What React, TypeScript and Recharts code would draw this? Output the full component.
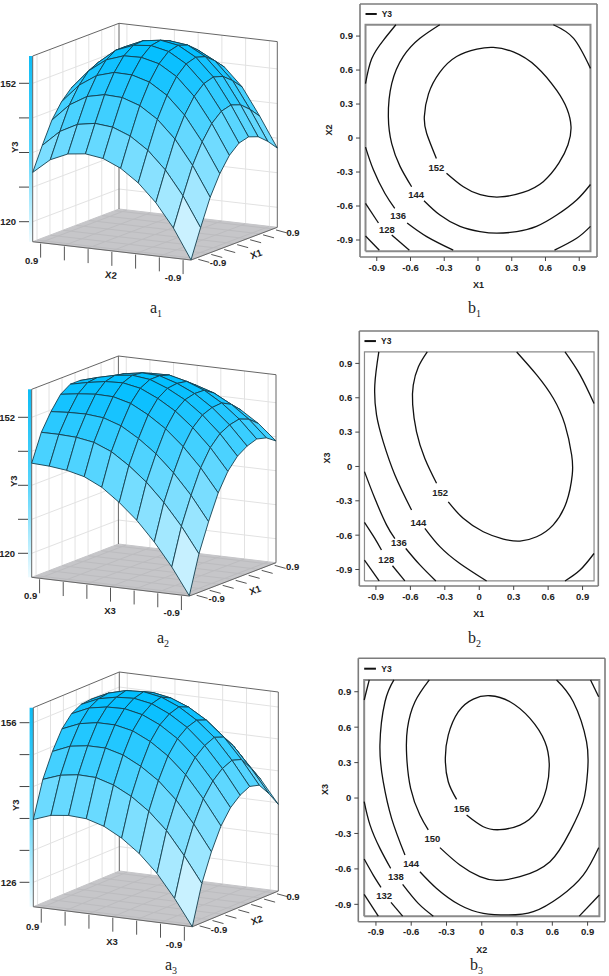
import { Scatter, ScatterChart, XAxis, YAxis } from "recharts";

const FONT = "'Liberation Sans', Arial, sans-serif";
const AXIS_TICKS = [-0.9, -0.6, -0.3, 0, 0.3, 0.6, 0.9];
const WALL_TICKS = [-0.9, -0.6, -0.3, 0, 0.3, 0.6, 0.9];

// surface heights, outer list runs along the left floor edge, inner along the right one
const SURFACE_A1 = [
  [115.4, 122, 128.2, 132.8, 136.2, 138.2, 138.8, 138, 136.1, 133.7],
  [122.3, 128.9, 135.1, 139.7, 143.1, 145.1, 145.7, 144.9, 143, 140.6],
  [127.7, 134.4, 140.7, 145.4, 148.9, 151, 151.7, 151, 149.2, 146.9],
  [131.8, 138.5, 144.8, 149.5, 153, 155.1, 155.8, 155.1, 153.3, 151],
  [134.7, 141.3, 147.5, 152.1, 155.5, 157.5, 158.1, 157.3, 155.4, 153],
  [136.5, 142.9, 148.9, 153.3, 156.5, 158.4, 158.8, 157.8, 155.7, 153.1],
  [137.1, 143.3, 149.1, 153.4, 156.4, 158, 158.2, 157.1, 154.8, 152],
  [136.6, 142.6, 148.2, 152.2, 155, 156.4, 156.4, 155, 152.5, 149.5],
  [134.8, 140.5, 145.8, 149.5, 152, 153.1, 152.8, 151.1, 148.3, 144.9],
  [131.4, 136.8, 141.8, 145.2, 147.5, 148.3, 147.7, 145.7, 142.6, 139],
];
const SURFACE_A2 = [
  [114.4, 123.4, 130.1, 136, 140.2, 142.9, 144.4, 145.2, 144.6, 143],
  [120.7, 129.4, 135.8, 141.4, 145.3, 147.7, 148.9, 149.4, 148.5, 146.6],
  [126.1, 134.5, 140.6, 145.9, 149.5, 151.6, 152.5, 152.7, 151.5, 149.3],
  [130.7, 138.8, 144.6, 149.6, 152.9, 154.7, 155.3, 155.2, 153.7, 151.2],
  [134.4, 142.2, 147.7, 152.4, 155.4, 156.9, 157.2, 156.8, 155, 152.2],
  [137.5, 145, 150.2, 154.6, 157.3, 158.5, 158.5, 157.8, 155.7, 152.6],
  [139.5, 146.7, 151.6, 155.7, 158.1, 159, 158.7, 157.7, 155.3, 151.9],
  [140.5, 147.4, 152, 155.8, 157.9, 158.5, 158, 156.6, 153.9, 150.2],
  [141, 147.6, 151.9, 155.4, 157.2, 157.5, 156.6, 155, 151.6, 148],
  [141.2, 147.6, 151.6, 154.8, 156.3, 156.3, 155.1, 153.2, 150, 145.6],
];
const SURFACE_A3 = [
  [121.4, 128.8, 134, 138.1, 140.8, 142.4, 143.3, 142.8, 140.5, 137.7],
  [126.3, 133.6, 138.8, 142.8, 145.4, 147, 147.8, 147.2, 144.8, 142],
  [130.6, 137.9, 142.9, 146.9, 149.4, 150.9, 151.7, 151, 148.6, 145.6],
  [133.9, 141.1, 146.1, 150, 152.5, 153.9, 154.5, 153.8, 151.3, 148.3],
  [136.4, 143.5, 148.4, 152.3, 154.7, 156, 156.6, 155.8, 153.3, 150.2],
  [138.2, 145.2, 150.1, 153.9, 156.2, 157.5, 158, 157.1, 154.5, 151.3],
  [139.2, 146.2, 151, 154.6, 156.9, 158.1, 158.6, 157.7, 154.9, 151.7],
  [139.4, 146.3, 151, 154.6, 156.8, 157.9, 158.4, 157.4, 154.6, 151.3],
  [139, 145.8, 150.5, 154, 156.2, 157.2, 157.5, 156.5, 153.6, 150.3],
  [137.8, 144.6, 149.1, 152.6, 154.7, 155.7, 155.9, 154.8, 151.9, 148.4],
];

const Y3_TICKS_A1 = [120, 128, 136, 144, 152];
const Y3_TICKS_A3 = [126, 132, 138, 144, 150, 156];

const LABELS_A1 = [
  { x: 31.7, y: 260, text: "0.9" },
  { x: 173, y: 277, text: "-0.9" },
  { x: 111, y: 275, text: "X2", rotate: 6 },
  { x: 218, y: 262, text: "-0.9" },
  { x: 293, y: 232, text: "0.9" },
  { x: 256, y: 254, text: "X1", rotate: -20 },
];
const LABELS_A2 = [
  { x: 30.7, y: 265.7, text: "0.9" },
  { x: 171.7, y: 282.7, text: "-0.9" },
  { x: 110, y: 280.7, text: "X3" },
  { x: 216.7, y: 268, text: "-0.9" },
  { x: 292.7, y: 236.7, text: "0.9" },
  { x: 255, y: 260, text: "X1", rotate: -20 },
];
const LABELS_A3 = [
  { x: 32.7, y: 271.7, text: "0.9" },
  { x: 174, y: 289, text: "-0.9" },
  { x: 112, y: 286.7, text: "X3" },
  { x: 219, y: 274, text: "-0.9" },
  { x: 293, y: 241.7, text: "0.9" },
  { x: 256.7, y: 265, text: "X2", rotate: -20 },
];

type Pair = number[];

const CONTOURS_B1: Pair[][] = [
  [[-0.37, -0.18], [-0.456, 0.04], [-0.477, 0.19], [-0.44, 0.39], [-0.34, 0.58], [-0.19, 0.72], [-0.01, 0.785], [0.136, 0.8], [0.314, 0.76], [0.52, 0.63], [0.7, 0.42], [0.79, 0.26], [0.827, 0.1], [0.8, -0.06], [0.72, -0.22], [0.58, -0.385], [0.4, -0.48], [0.196, -0.52], [0.02, -0.5], [-0.13, -0.43], [-0.28, -0.31]],
  [[-0.34, 1], [-0.516, 0.88], [-0.664, 0.72], [-0.767, 0.48], [-0.797, 0.19], [-0.767, -0.05], [-0.693, -0.25], [-0.59, -0.43]],
  [[-0.48, -0.553], [-0.338, -0.68], [-0.16, -0.78], [0.018, -0.826], [0.166, -0.84], [0.344, -0.826], [0.52, -0.78], [0.7, -0.68], [0.877, -0.547], [1, -0.41]],
  [[0.67, 1], [0.85, 0.88], [1, 0.615]],
  [[-0.73, 1], [-0.84, 0.865], [-0.945, 0.7], [-1, 0.48]],
  [[-1, -0.08], [-0.93, -0.28], [-0.827, -0.49], [-0.74, -0.62]],
  [[-0.63, -0.75], [-0.456, -0.87], [-0.22, -0.99]],
  [[0.68, -0.99], [0.877, -0.885], [1, -0.78]],
  [[-1, -0.576], [-0.885, -0.75]],
  [[-0.767, -0.856], [-0.61, -0.99]],
  [[-1, -0.865], [-0.877, -0.99]],
];
const CONTOURS_B2: Pair[][] = [
  [[-0.453, 1], [-0.53, 0.87], [-0.575, 0.71], [-0.58, 0.54], [-0.547, 0.305], [-0.474, 0.07], [-0.372, -0.147]],
  [[-0.27, -0.31], [-0.14, -0.453], [0.035, -0.57], [0.21, -0.634], [0.355, -0.652], [0.5, -0.614], [0.645, -0.51], [0.76, -0.31], [0.81, -0.074], [0.805, 0.1], [0.747, 0.363], [0.645, 0.596], [0.5, 0.8], [0.326, 1]],
  [[-0.875, 1], [-0.91, 0.71], [-0.895, 0.45], [-0.837, 0.217], [-0.735, -0.074], [-0.59, -0.38]],
  [[-0.474, -0.54], [-0.343, -0.7], [-0.169, -0.847], [0.064, -1]],
  [[0.747, -1], [0.878, -0.905], [1, -0.76]],
  [[0.747, 1], [0.878, 0.8], [1, 0.55]],
  [[-1, -0.045], [-0.91, -0.278], [-0.808, -0.51], [-0.735, -0.63]],
  [[-0.64, -0.716], [-0.517, -0.86], [-0.378, -1]],
  [[-1, -0.488], [-0.91, -0.628], [-0.852, -0.73]],
  [[-0.756, -0.867], [-0.648, -1]],
  [[-1, -0.818], [-0.872, -1]],
];
const CONTOURS_B3: Pair[][] = [
  [[-0.214, -0.011], [-0.285, 0.138], [-0.31, 0.336], [-0.285, 0.533], [-0.2, 0.73], [-0.072, 0.838], [0.07, 0.866], [0.24, 0.815], [0.41, 0.674], [0.537, 0.477], [0.574, 0.279], [0.55, 0.082], [0.466, -0.116], [0.325, -0.229], [0.154, -0.268], [0.013, -0.243], [-0.129, -0.144]],
  [[-0.446, 1], [-0.568, 0.815], [-0.632, 0.59], [-0.639, 0.364], [-0.605, 0.082], [-0.526, -0.144], [-0.455, -0.27]],
  [[-0.356, -0.42], [-0.186, -0.567], [-0.016, -0.666], [0.126, -0.697], [0.325, -0.666], [0.58, -0.539], [0.75, -0.285], [0.863, -0.031], [0.9, 0.223], [0.891, 0.477], [0.778, 0.815], [0.636, 1]],
  [[-0.747, 1], [-0.823, 0.815], [-0.866, 0.449], [-0.838, 0.138], [-0.767, -0.172], [-0.653, -0.483]],
  [[-0.526, -0.624], [-0.384, -0.765], [-0.186, -0.906], [0.013, -0.976], [0.225, -0.99], [0.438, -0.962], [0.665, -0.835], [0.863, -0.652], [0.994, -0.42]],
  [[0.925, 1], [0.994, 0.858]],
  [[-0.957, 1], [-1, 0.83]],
  [[-1, -0.03], [-0.95, -0.229], [-0.866, -0.426], [-0.775, -0.595]],
  [[-0.673, -0.731], [-0.54, -0.892], [-0.412, -1]],
  [[0.829, -1], [1, -0.821]],
  [[-1, -0.516], [-0.923, -0.652], [-0.857, -0.756]],
  [[-0.772, -0.883], [-0.673, -1]],
  [[-1, -0.815], [-0.88, -1]],
];

const LEVELS_B1 = [
  { x: -0.37, y: -0.26, text: "152" },
  { x: -0.55, y: -0.495, text: "144" },
  { x: -0.71, y: -0.685, text: "136" },
  { x: -0.81, y: -0.805, text: "128" },
];
const LEVELS_B2 = [
  { x: -0.34, y: -0.23, text: "152" },
  { x: -0.53, y: -0.49, text: "144" },
  { x: -0.7, y: -0.66, text: "136" },
  { x: -0.81, y: -0.81, text: "128" },
];
const LEVELS_B3 = [
  { x: -0.17, y: -0.085, text: "156" },
  { x: -0.42, y: -0.345, text: "150" },
  { x: -0.6, y: -0.555, text: "144" },
  { x: -0.73, y: -0.665, text: "138" },
  { x: -0.83, y: -0.825, text: "132" },
];

// flat shade of a patch, low to high
const SHADE_STOPS = [0, 0.15, 0.34, 0.57, 0.76, 0.92, 1];
const SHADE_COLORS = [
  [230, 250, 255],
  [204, 242, 255],
  [153, 229, 255],
  [102, 217, 255],
  [51, 204, 255],
  [12, 192, 255],
  [0, 191, 255],
];

function shade(t: number) {
  const v = Math.min(1, Math.max(0, t));
  let k = 0;
  while (k < SHADE_STOPS.length - 2 && v > SHADE_STOPS[k + 1]) k++;
  const f = (v - SHADE_STOPS[k]) / (SHADE_STOPS[k + 1] - SHADE_STOPS[k]);
  const c = SHADE_COLORS[k].map((a, n) => Math.round(a + (SHADE_COLORS[k + 1][n] - a) * f));
  return `rgb(${c.join(",")})`;
}

function NoPoint() {
  return <g />;
}

function TextMark(props: any) {
  const { cx, cy, payload } = props;
  return (
    <text
      x={cx}
      y={cy}
      textAnchor="middle"
      dominantBaseline="central"
      fontSize={payload.size || 9.5}
      fontFamily={FONT}
      fontWeight={700}
      fill="#222"
      transform={payload.rotate ? `rotate(${payload.rotate} ${cx} ${cy})` : undefined}
    >
      {payload.text}
    </text>
  );
}

function Surface({ id, top, height, front, left, right, wallHeight, grid, ticks, labelled, lowTick, highTick, labels, yLabel, yLabelX }: any) {
  const width = 300;
  const ppu = (lowTick.y - highTick.y) / (highTick.z - lowTick.z);
  const zFloor = lowTick.z - (left[1] - lowTick.y) / ppu;
  const zTop = zFloor + wallHeight / ppu;
  const plotLeft = left[0] - 3.7;
  const yDomain = [lowTick.z - (height - lowTick.y) / ppu, lowTick.z + lowTick.y / ppu];

  // orthographic view, u runs to the left corner and v to the right corner
  const project = (u: number, v: number, z: number) => {
    const floorY = front[1] + u * (left[1] - front[1]) + v * (right[1] - front[1]);
    return {
      x: front[0] + u * (left[0] - front[0]) + v * (right[0] - front[0]),
      y: z + (left[1] - floorY) / ppu,
    };
  };
  const nudge = (p: { x: number; y: number }, dx: number, dy: number) => ({ x: p.x + dx, y: p.y - dy / ppu });
  const frac = (t: number) => (t + 1) / 2;
  const labelMarks = labels.map((l: any) => ({ ...l, y: lowTick.z + (lowTick.y - l.y) / ppu }));

  const lines: { pts: any[]; stroke: string }[] = [];
  WALL_TICKS.forEach((t) => {
    lines.push({ pts: [project(1, frac(t), zFloor), project(1, frac(t), zTop)], stroke: "#e2e2e2" });
    lines.push({ pts: [project(frac(t), 1, zFloor), project(frac(t), 1, zTop)], stroke: "#e2e2e2" });
    lines.push({ pts: [project(1, frac(t), zFloor), project(0, frac(t), zFloor)], stroke: "#bcbcbf" });
    lines.push({ pts: [project(frac(t), 1, zFloor), project(frac(t), 0, zFloor)], stroke: "#bcbcbf" });
  });
  ticks.forEach((z: number) => {
    lines.push({ pts: [project(1, 0, z), project(1, 1, z), project(0, 1, z)], stroke: "#e2e2e2" });
  });
  const box = [
    [project(1, 0, zFloor), project(1, 0, zTop), project(1, 1, zTop), project(0, 1, zTop), project(0, 1, zFloor)],
    [project(1, 1, zFloor), project(1, 1, zTop)],
    [project(1, 0, zFloor), project(0, 0, zFloor), project(0, 1, zFloor)],
  ];
  const tickMarks: any[][] = [];
  AXIS_TICKS.forEach((t) => {
    const a = project(frac(t), 0, zFloor);
    tickMarks.push([nudge(a, 0, 1), nudge(a, 0, 15)]);
    const b = project(0, frac(t), zFloor);
    tickMarks.push([nudge(b, 3, 1), nudge(b, 14, 4)]);
  });

  const patches: { pts: any[]; fill: string }[] = [];
  for (let j = grid.length - 2; j >= 0; j--) {
    for (let i = grid[j].length - 2; i >= 0; i--) {
      const n = grid.length - 1;
      const corners = [
        project(j / n, i / n, grid[j][i]),
        project((j + 1) / n, i / n, grid[j + 1][i]),
        project((j + 1) / n, (i + 1) / n, grid[j + 1][i + 1]),
        project(j / n, (i + 1) / n, grid[j][i + 1]),
      ];
      const mean = (grid[j][i] + grid[j + 1][i] + grid[j + 1][i + 1] + grid[j][i + 1]) / 4;
      patches.push({ pts: [...corners, corners[0]], fill: shade((mean - zFloor) / (zTop - zFloor)) });
    }
  }

  const floorCorners = [project(0, 0, zFloor), project(1, 0, zFloor), project(1, 1, zFloor), project(0, 1, zFloor)];
  const barPts = [
    { x: plotLeft, y: zFloor },
    { x: plotLeft, y: zTop },
    { x: left[0], y: zTop },
    { x: left[0], y: zFloor },
    { x: plotLeft, y: zFloor },
  ];

  return (
    <div style={{ position: "absolute", left: 0, top }}>
      <ScatterChart width={width} height={height} margin={{ top: 0, right: 0, bottom: 0, left: 0 }}>
        <defs>
          <linearGradient id={id} x1="0" y1="0" x2="0" y2="1">
            <stop offset="0%" stopColor="#0cbcf5" />
            <stop offset="50%" stopColor="#55d4fb" />
            <stop offset="100%" stopColor="#eefbff" />
          </linearGradient>
        </defs>
        <XAxis type="number" dataKey="x" hide domain={[plotLeft, width]} />
        <YAxis
          type="number"
          dataKey="y"
          width={plotLeft}
          domain={yDomain}
          ticks={ticks}
          interval={0}
          axisLine={false}
          tickSize={10}
          tickMargin={3}
          tickLine={{ stroke: "#444" }}
          tick={{ fontSize: 9.5, fontFamily: FONT, fontWeight: 700, fill: "#222" }}
          tickFormatter={(v: number) => (labelled.includes(v) ? String(v) : "")}
          label={{ value: "Y3", angle: -90, position: "insideLeft", offset: yLabelX, dy: yLabel, fontSize: 9.5, fontFamily: FONT, fontWeight: 700, fill: "#222" }}
        />
        <Scatter data={[...floorCorners, floorCorners[0]]} line={{ stroke: "#c6c6c9", fill: "#c6c6c9" }} shape={NoPoint} isAnimationActive={false} />
        <Scatter data={barPts} line={{ stroke: "none", fill: `url(#${id})` }} shape={NoPoint} isAnimationActive={false} />
        {lines.map((l, n) => (
          <Scatter key={`l${n}`} data={l.pts} line={{ stroke: l.stroke, strokeWidth: 1 }} shape={NoPoint} isAnimationActive={false} />
        ))}
        {box.map((b, n) => (
          <Scatter key={`b${n}`} data={b} line={{ stroke: "#666", strokeWidth: 1 }} shape={NoPoint} isAnimationActive={false} />
        ))}
        {patches.map((p, n) => (
          <Scatter key={`p${n}`} data={p.pts} line={{ stroke: "#14404f", strokeWidth: 0.9, fill: p.fill }} shape={NoPoint} isAnimationActive={false} />
        ))}
        {tickMarks.map((t, n) => (
          <Scatter key={`t${n}`} data={t} line={{ stroke: "#555", strokeWidth: 1 }} shape={NoPoint} isAnimationActive={false} />
        ))}
        <Scatter data={labelMarks} shape={TextMark} isAnimationActive={false} />
      </ScatterChart>
    </div>
  );
}

function Contour({ top, margins, xDomain, yDomain, segments, levels, xName, yName, boxWidth, nameOffset, yNameX }: any) {
  const tickText = (v: number) => (v === 0 ? "0" : v.toFixed(1));
  const tickStyle = { fontSize: 9.5, fontFamily: FONT, fontWeight: 700, fill: "#222" };
  const frame = { stroke: "#7c7c7c", strokeWidth: 1.6 };
  const blank = () => "";
  return (
    <div style={{ position: "absolute", left: 320, top }}>
      <ScatterChart width={289} height={300} margin={{ top: 0, right: 0, bottom: 0, left: 0 }}>
        <XAxis
          type="number"
          dataKey="x"
          domain={xDomain}
          ticks={AXIS_TICKS}
          interval={0}
          height={margins.bottom}
          tickSize={4}
          tickMargin={3}
          axisLine={frame}
          tickLine={{ stroke: "#444" }}
          tick={tickStyle}
          tickFormatter={tickText}
          label={{ value: xName, position: "insideBottom", offset: nameOffset, fontSize: 9, fontFamily: FONT, fontWeight: 700, fill: "#222" }}
        />
        <XAxis xAxisId="top" orientation="top" type="number" domain={xDomain} ticks={AXIS_TICKS} interval={0} height={margins.top} tickSize={4} axisLine={frame} tickLine={{ stroke: "#444" }} tickFormatter={blank} />
        <YAxis
          type="number"
          dataKey="y"
          domain={yDomain}
          ticks={AXIS_TICKS}
          interval={0}
          width={margins.left}
          tickSize={4}
          tickMargin={3}
          axisLine={frame}
          tickLine={{ stroke: "#444" }}
          tick={tickStyle}
          tickFormatter={tickText}
          label={{ value: yName, angle: -90, position: "insideLeft", offset: yNameX, dy: 5, fontSize: 9, fontFamily: FONT, fontWeight: 700, fill: "#222" }}
        />
        <YAxis yAxisId="right" orientation="right" type="number" domain={yDomain} ticks={AXIS_TICKS} interval={0} width={margins.right} tickSize={4} axisLine={frame} tickLine={{ stroke: "#444" }} tickFormatter={blank} />
        <Scatter
          data={[{ x: -1, y: -1 }, { x: -1, y: 1 }, { x: 1, y: 1 }, { x: 1, y: -1 }, { x: -1, y: -1 }]}
          line={{ stroke: "#8a8a8a", strokeWidth: boxWidth }}
          shape={NoPoint}
          isAnimationActive={false}
        />
        {segments.map((s: Pair[], n: number) => (
          <Scatter
            key={n}
            data={s.map(([x, y]) => ({ x, y }))}
            line={{ stroke: "#111", strokeWidth: 1.3 }}
            lineJointType="natural"
            shape={NoPoint}
            isAnimationActive={false}
          />
        ))}
        <Scatter data={[{ x: -1, y: 1.095 }, { x: -0.9, y: 1.095 }]} line={{ stroke: "#111", strokeWidth: 2 }} shape={NoPoint} isAnimationActive={false} />
        <Scatter data={[{ x: -0.81, y: 1.095, text: "Y3", size: 8.5 }]} shape={TextMark} isAnimationActive={false} />
        <Scatter data={levels} shape={TextMark} isAnimationActive={false} />
      </ScatterChart>
    </div>
  );
}

function Caption({ x, y, name, index }: { x: number; y: number; name: string; index: number }) {
  return (
    <div style={{ position: "absolute", left: x, top: y, fontFamily: "'Liberation Serif', serif", fontSize: 16, color: "#222", lineHeight: "16px" }}>
      {name}
      <sub style={{ fontSize: 10, lineHeight: 0 }}>{index}</sub>
    </div>
  );
}

export default function App() {
  return (
    <div style={{ position: "absolute", left: 0, top: 0, width: 609, height: 976, overflow: "hidden", background: "#fff" }}>
      <Surface
        id="barA1"
        top={0}
        height={320}
        front={[191, 260]}
        left={[32.7, 241.7]}
        right={[277.3, 227.3]}
        wallHeight={185.7}
        grid={SURFACE_A1}
        ticks={Y3_TICKS_A1}
        labelled={[120, 152]}
        lowTick={{ z: 120, y: 221.7 }}
        highTick={{ z: 152, y: 83.3 }}
        labels={LABELS_A1}
        yLabel={-7}
        yLabelX={15}
      />
      <Surface
        id="barA2"
        top={330}
        height={320}
        front={[189.3, 266]}
        left={[31.7, 247.3]}
        right={[276, 232.7]}
        wallHeight={188}
        grid={SURFACE_A2}
        ticks={Y3_TICKS_A1}
        labelled={[120, 152]}
        lowTick={{ z: 120, y: 223.3 }}
        highTick={{ z: 152, y: 87.3 }}
        labels={LABELS_A2}
        yLabel={-3}
        yLabelX={14}
      />
      <Surface
        id="barA3"
        top={655}
        height={320}
        front={[192.3, 271.7]}
        left={[33.3, 251.7]}
        right={[278.3, 236]}
        wallHeight={199}
        grid={SURFACE_A3}
        ticks={Y3_TICKS_A3}
        labelled={[126, 156]}
        lowTick={{ z: 126, y: 227.3 }}
        highTick={{ z: 156, y: 67.7 }}
        labels={LABELS_A3}
        yLabel={-4}
        yLabelX={16}
      />
      <Contour
        top={0}
        margins={{ top: 4, bottom: 43, left: 40, right: 12 }}
        xDomain={[-1.049, 1.058]}
        yDomain={[-1.05, 1.183]}
        segments={CONTOURS_B1}
        levels={LEVELS_B1}
        xName="X1"
        yName="X2"
        boxWidth={2}
        nameOffset={12}
        yNameX={9}
      />
      <Contour
        top={325}
        margins={{ top: 6, bottom: 39, left: 39.3, right: 10.7 }}
        xDomain={[-1.045, 1.037]}
        yDomain={[-1.044, 1.183]}
        segments={CONTOURS_B2}
        levels={LEVELS_B2}
        xName="X1"
        yName="X3"
        boxWidth={1.2}
        nameOffset={8}
        yNameX={7}
      />
      <Contour
        top={655}
        margins={{ top: 3.3, bottom: 33.3, left: 38.3, right: 4 }}
        xDomain={[-1.05, 1.048]}
        yDomain={[-1.047, 1.183]}
        segments={CONTOURS_B3}
        levels={LEVELS_B3}
        xName="X2"
        yName="X3"
        boxWidth={2}
        nameOffset={2}
        yNameX={5}
      />
      <Caption x={150} y={300} name="a" index={1} />
      <Caption x={468} y={300} name="b" index={1} />
      <Caption x={157} y={630} name="a" index={2} />
      <Caption x={468} y={630} name="b" index={2} />
      <Caption x={165} y={957} name="a" index={3} />
      <Caption x={470} y={957} name="b" index={3} />
    </div>
  );
}
